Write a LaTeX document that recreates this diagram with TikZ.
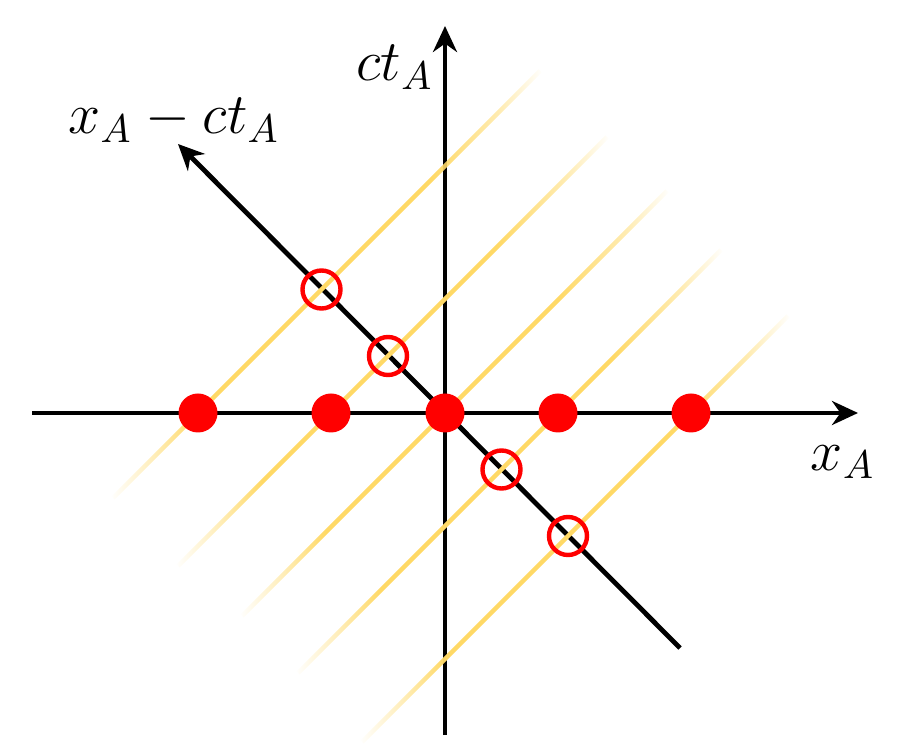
\documentclass[tikz,border=0pt]{standalone}
\usepackage{amsmath}
\usepackage{tikz}
\usetikzlibrary{arrows.meta,fadings}
\definecolor{lightgold}{RGB}{255,217,102}
\definecolor{dotred}{RGB}{255,0,0}

\pgfdeclarehorizontalshading{goldfadeshade}{100bp}{color(0bp)=(transparent!100); color(25bp)=(transparent!100); color(30bp)=(transparent!55); color(35bp)=(transparent!0); color(62bp)=(transparent!0); color(70bp)=(transparent!50); color(75bp)=(transparent!100); color(100bp)=(transparent!100)}
\pgfdeclarefading{goldfade}{\pgfuseshading{goldfadeshade}}

\begin{document}
\begin{tikzpicture}[x=0.25pt,y=-0.25pt,>={Stealth[length=6.5pt,width=6pt]}]
	\tikzset{
		reddot/.style={circle,fill=dotred,inner sep=0pt,minimum size=9.75pt},
		openring/.style={circle,draw=dotred,line width=1.1pt,inner sep=0pt,minimum size=9.5pt},
		glow/.style={lightgold,line width=1.1pt,path fading=goldfade},
		axisline/.style={line width=1.2pt},
		lab/.style={font=\Large}
	}
	\useasboundingbox (0,0) rectangle (921,747);
	%	\draw [help lines, step=50] (0,0) grid (921,747);
	\coordinate (xl) at (32,413);
	\coordinate (xr) at (858,413);
	\coordinate (tb) at (445,735);
	\coordinate (tt) at (445,26);
	\coordinate (dl) at (680,648);
	\coordinate (du) at (178,144);
	\draw [axisline,->] (xl) -- (xr);
	\draw [axisline,->] (tb) -- (tt);
	\draw [axisline,->] (dl) -- (du);
	% light lines
	\coordinate (g1a) at (113,498);	\coordinate (g1b) at (540,71);
	\coordinate (g2a) at (178,566);	\coordinate (g2b) at (607,137);
	\coordinate (g3a) at (242,616);	\coordinate (g3b) at (667,191);
	\coordinate (g4a) at (298,673);	\coordinate (g4b) at (721,250);
	\coordinate (g5a) at (362,742);	\coordinate (g5b) at (788,316);
	\draw [glow] (g1a) -- (g1b);
	\draw [glow] (g2a) -- (g2b);
	\draw [glow] (g3a) -- (g3b);
	\draw [glow] (g4a) -- (g4b);
	\draw [glow] (g5a) -- (g5b);
	% points
	\node [reddot] (d1) at (198,413) {};
	\node [reddot] (d2) at (331,413) {};
	\node [reddot] (d3) at (445,413) {};
	\node [reddot] (d4) at (558,413) {};
	\node [reddot] (d5) at (691,413) {};
	\node [openring] (r1) at (321.5,289.5) {};
	\node [openring] (r2) at (388,356) {};
	\node [openring] (r3) at (501.5,469.5) {};
	\node [openring] (r4) at (568,536) {};
	% labels
	\node [lab] (tlab) at (395,67) {$ct_A$};
	\node [lab] (dlab) at (174,120) {$x_A - ct_A$};
	\node [lab] (xlab) at (843,462) {$x_A$};
\end{tikzpicture}
\end{document}
